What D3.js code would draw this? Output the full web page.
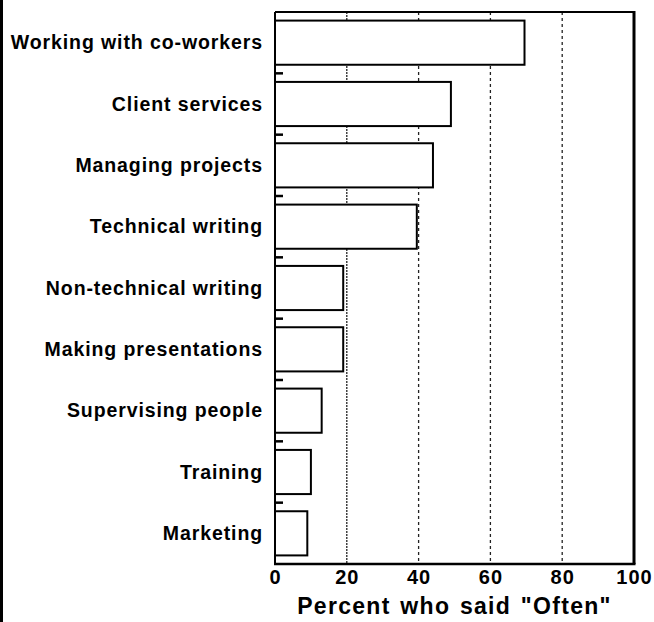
<!DOCTYPE html>
<html>
<head>
<meta charset="utf-8">
<script src="https://cdn.jsdelivr.net/npm/d3@7"></script>
<style>
  html, body { margin: 0; padding: 0; background: #fff; }
  svg { display: block; }
  text { font-family: "Liberation Sans", Arial, Helvetica, sans-serif; font-weight: bold; fill: #000; }
</style>
</head>
<body>
<svg id="chart" width="654" height="622"></svg>
<script>
const categories = [
  "Working with co-workers",
  "Client services",
  "Managing projects",
  "Technical writing",
  "Non-technical writing",
  "Making presentations",
  "Supervising people",
  "Training",
  "Marketing"
];
const values = [69.5, 49, 44, 39.5, 19, 19, 13, 10, 9];
const xTicks = [0, 20, 40, 60, 80, 100];
const gridTicks = [20, 40, 60, 80];
const xTitle = 'Percent who said "Often"';

const W = 654, H = 622;
const m = { left: 275, right: 654 - 634, top: 12, bottom: 622 - 564 };
const svg = d3.select("#chart");

const x = d3.scaleLinear().domain([0, 100]).range([m.left, W - m.right]);
const y = d3.scaleBand().domain(categories).range([m.top, H - m.bottom])
  .paddingInner(0.28).paddingOuter(0.14);

// page left edge line
svg.append("line").attr("x1", 1.5).attr("x2", 1.5).attr("y1", 0).attr("y2", H)
  .attr("stroke", "#000").attr("stroke-width", 3);

// gridlines
svg.append("g").selectAll("line").data(gridTicks).join("line")
  .attr("x1", d => x(d)).attr("x2", d => x(d))
  .attr("y1", m.top).attr("y2", H - m.bottom)
  .attr("stroke", "#222").attr("stroke-width", 1.3)
  .attr("stroke-dasharray", d => d === 20 ? "2,1" : "3,3");

// bars
svg.append("g").selectAll("rect").data(categories).join("rect")
  .attr("x", x(0))
  .attr("y", d => y(d))
  .attr("width", (d, i) => x(values[i]) - x(0))
  .attr("height", y.bandwidth())
  .attr("fill", "#fff").attr("stroke", "#000").attr("stroke-width", 2);

// category separator ticks
const step = y.step();
const sepIdx = d3.range(1, categories.length);
svg.append("g").selectAll("line").data(sepIdx).join("line")
  .attr("x1", x(0)).attr("x2", x(0) + 8)
  .attr("y1", i => m.top + i * step).attr("y2", i => m.top + i * step)
  .attr("stroke", "#000").attr("stroke-width", 2.5);

// frame
svg.append("line").attr("x1", x(0)).attr("x2", x(100)).attr("y1", m.top).attr("y2", m.top)
  .attr("stroke", "#000").attr("stroke-width", 2);
svg.append("line").attr("x1", x(100)).attr("x2", x(100)).attr("y1", m.top - 1).attr("y2", H - m.bottom)
  .attr("stroke", "#000").attr("stroke-width", 3);
svg.append("line").attr("x1", x(0)).attr("x2", x(0)).attr("y1", m.top).attr("y2", H - m.bottom)
  .attr("stroke", "#000").attr("stroke-width", 2);
svg.append("line").attr("x1", x(0) - 1).attr("x2", x(100) + 1.5).attr("y1", H - m.bottom).attr("y2", H - m.bottom)
  .attr("stroke", "#000").attr("stroke-width", 2.5);

// category labels
svg.append("g").selectAll("text").data(categories).join("text")
  .attr("x", m.left - 12)
  .attr("y", d => y(d) + y.bandwidth() / 2)
  .attr("dy", "0.35em")
  .attr("text-anchor", "end")
  .style("font-size", "19.5px")
  .style("letter-spacing", "0.9px")
  .text(d => d);

// x axis labels
const xAxis = d3.axisBottom(x).tickValues(xTicks).tickSize(0).tickPadding(0);
const gx = svg.append("g").attr("transform", `translate(0,${H - m.bottom + 6})`).call(xAxis);
gx.select(".domain").remove();
gx.selectAll("text")
  .attr("dy", "0.71em")
  .style("font-size", "20px")
  .style("letter-spacing", "1px")
  .style("font-family", '"Liberation Sans", Arial, sans-serif')
  .style("font-weight", "bold")
  .attr("fill", "#000");

// x title
svg.append("text")
  .attr("x", (x(0) + x(100)) / 2)
  .attr("y", 614)
  .attr("text-anchor", "middle")
  .style("font-size", "23px")
  .style("letter-spacing", "1.3px")
  .style("word-spacing", "2px")
  .text(xTitle);
</script>
</body>
</html>
